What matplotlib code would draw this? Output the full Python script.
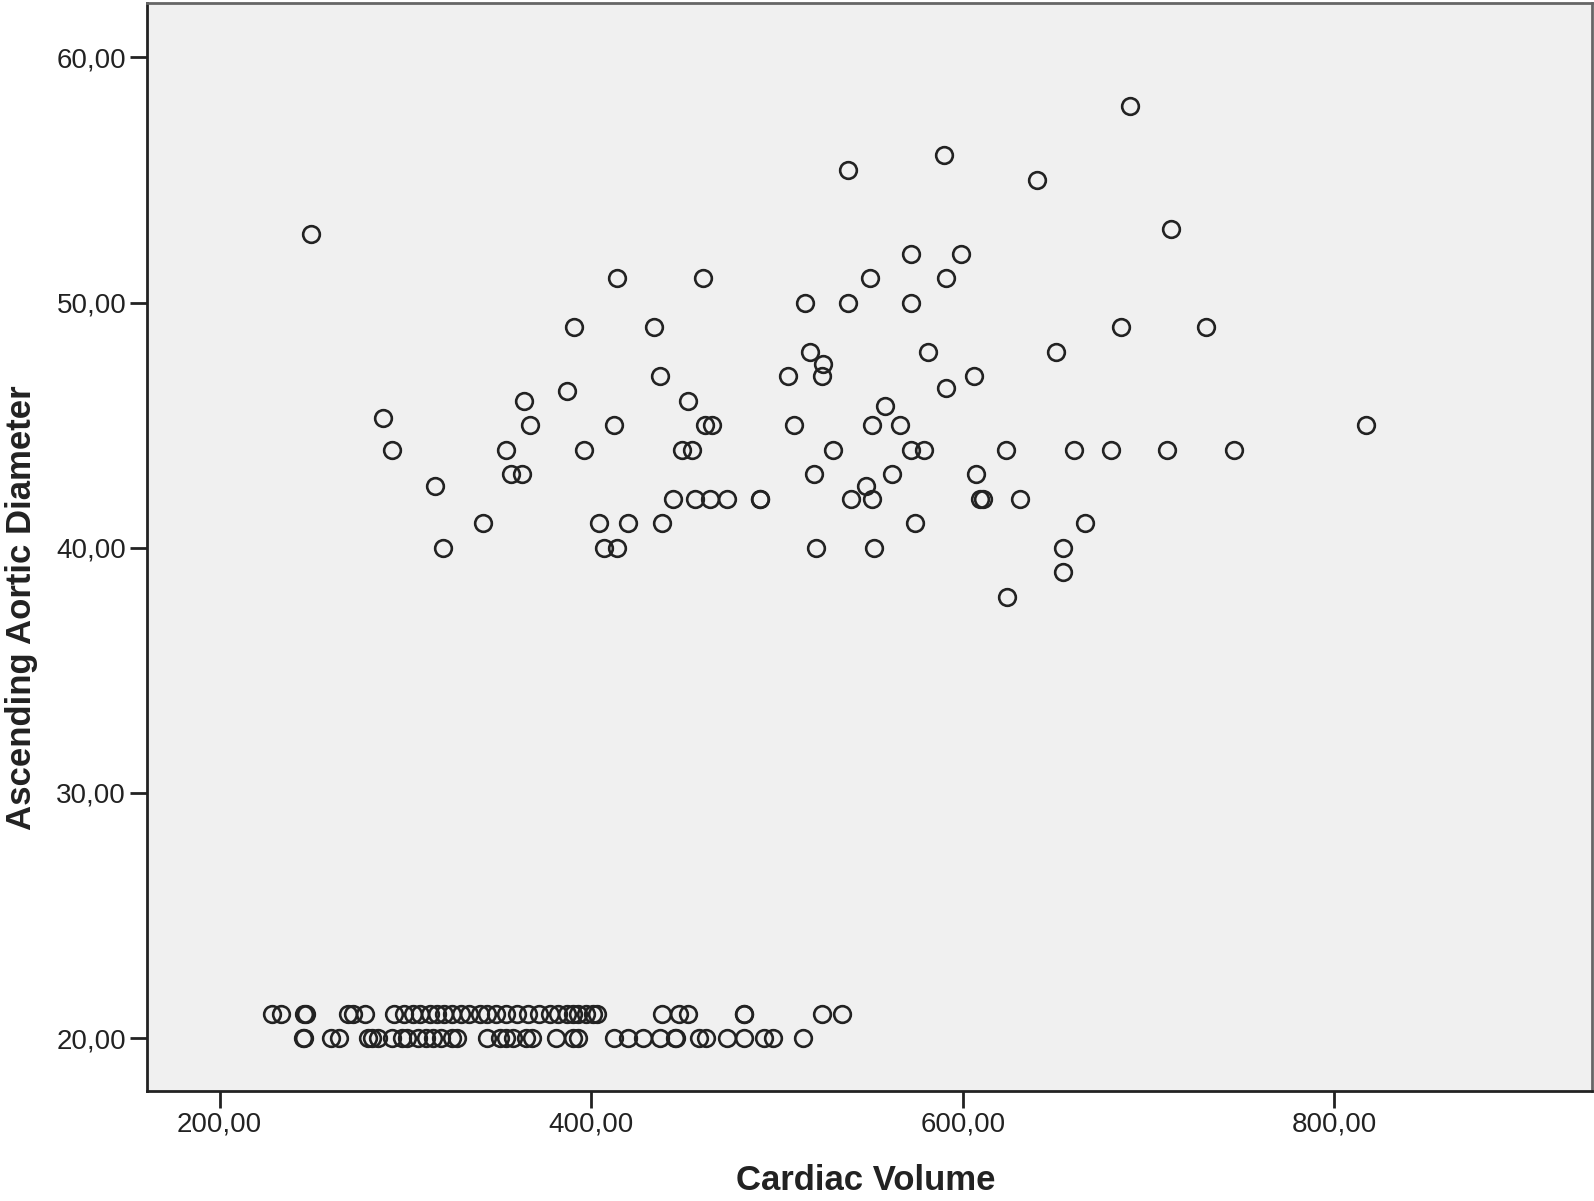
import matplotlib.pyplot as plt
from matplotlib.ticker import FuncFormatter

# upper cluster: cardiac volume / ascending aortic diameter
volume_upper = [249, 288, 293, 316, 320, 342, 354, 357, 363, 364, 367, 387, 391, 396,
                404, 407, 414, 412, 414, 420, 434, 437, 438, 444, 449, 452, 454, 456,
                460, 461, 465, 464, 473, 491, 491, 506, 509, 515, 518, 521, 520, 524,
                525, 530, 538, 538, 540, 548, 550, 551, 551, 552, 558, 562, 566, 572,
                572, 572, 574, 579, 581, 590, 591, 591, 599, 606, 607, 609, 611, 624,
                623, 631, 640, 650, 654, 654, 660, 666, 680, 685, 690, 710, 712, 731,
                746, 817]
diameter_upper = [52.8, 45.3, 44, 42.5, 40, 41, 44, 43, 43, 46, 45, 46.4, 49, 44,
                  41, 40, 40, 45, 51, 41, 49, 47, 41, 42, 44, 46, 44, 42,
                  51, 45, 45, 42, 42, 42, 42, 47, 45, 50, 48, 40, 43, 47,
                  47.5, 44, 55.4, 50, 42, 42.5, 51, 45, 42, 40, 45.8, 43, 45, 52,
                  50, 44, 41, 44, 48, 56, 51, 46.5, 52, 47, 43, 42, 42, 38,
                  44, 42, 55, 48, 40, 39, 44, 41, 44, 49, 58, 44, 53, 49,
                  44, 45]

# lower bands at 21 and 20
volume_21 = [228, 233, 245.5, 246.5, 269, 272, 278, 294, 299, 304, 308, 313, 317, 321,
             325, 330, 334, 340, 344, 349, 354, 360, 366, 372, 378, 382, 387, 390,
             393, 397, 401, 403, 438, 447, 452, 482, 482.5, 524, 535]
volume_20 = [245, 245.5, 260, 264, 280, 282, 285, 293, 298, 301, 307, 311, 315, 319,
             325, 328, 344, 351, 354, 358, 365, 368, 381, 390, 393, 412, 420, 428,
             437, 445, 445.5, 458, 462, 473, 482, 493, 498, 514]

volume = volume_upper + volume_21 + volume_20
diameter = diameter_upper + [21] * len(volume_21) + [20] * len(volume_20)

plt.rcParams['font.family'] = ['Liberation Sans', 'DejaVu Sans']

fig = plt.figure(figsize=(15.94, 12.01), dpi=100)
ax = fig.add_axes([0.0922, 0.0918, 0.9065, 0.9057])
ax.set_facecolor('#f0f0f0')

ax.plot(volume, diameter, linestyle='none', marker='o', markersize=12,
        markerfacecolor='none', markeredgecolor='#222222', markeredgewidth=1.9)

ax.set_xlim(160.9, 938.6)
ax.set_ylim(17.85, 62.22)
ax.set_xticks([200, 400, 600, 800])
ax.set_yticks([20, 30, 40, 50, 60])

comma_fmt = FuncFormatter(lambda v, pos: f"{v:.2f}".replace('.', ','))
ax.xaxis.set_major_formatter(comma_fmt)
ax.yaxis.set_major_formatter(comma_fmt)

ax.tick_params(axis='both', direction='out', length=12, width=2, color='#222222',
               labelsize=20, labelcolor='#222222', pad=3)

for side in ['left', 'bottom']:
    ax.spines[side].set_linewidth(2)
    ax.spines[side].set_color('#222222')
for side in ['top', 'right']:
    ax.spines[side].set_linewidth(2)
    ax.spines[side].set_color('#666666')

# axis titles placed on the figure so they sit right at the edges like the original
fig.text(0.543, 0.009, 'Cardiac Volume', fontsize=25, fontweight='bold',
         color='#222222', ha='center', va='baseline')
fig.text(0.0195, 0.4937, 'Ascending Aortic Diameter', fontsize=25, fontweight='bold',
         color='#222222', ha='center', va='baseline', rotation=90, rotation_mode='anchor')

fig.savefig('out.png', dpi=100)
